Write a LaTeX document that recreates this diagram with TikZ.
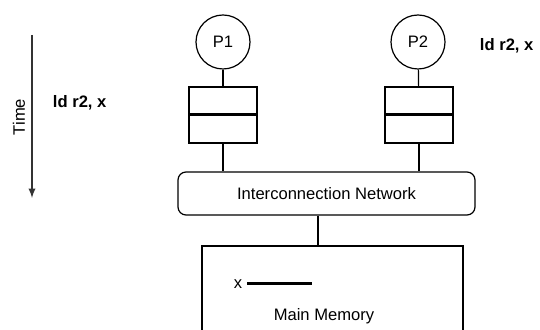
\documentclass[tikz,border=0pt]{standalone}
\usepackage{fontspec}
\setmainfont{Liberation Sans}

\begin{document}
\begin{tikzpicture}[x=0.25mm, y=-0.25mm, font=\fontsize{11.8}{14}\selectfont,
		proc/.style={draw, circle, line width=0.3mm, minimum size=13.5mm, inner sep=0pt},
		cachebox/.style={draw, rectangle, line width=0.3mm, minimum width=17mm, minimum height=14mm},
		netbox/.style={draw, rectangle, rounded corners=2mm, line width=0.3mm, minimum width=74.25mm, minimum height=10.75mm},
		membox/.style={draw, rectangle, line width=0.4mm, minimum width=65.25mm, minimum height=30mm},
		wire/.style={line width=0.3mm},
		opname/.style={font=\fontsize{11.8}{14}\selectfont\bfseries}]
		%%%%% START %%%%%
		\useasboundingbox (0, 0) rectangle (540, 330);
		\clip (0, 0) rectangle (540, 330);
		
		% time axis
		\coordinate (tTop) at (32, 35);
		\coordinate (tBot) at (32, 198);
		\draw[line width=0.45mm, color=black!80, -latex] (tTop) -- (tBot);
		\node[rotate=90] (time) at (19, 117) {Time};
		\node[opname, anchor=west] (ldA) at (48, 103) {ld r2, x};
		\node[opname, anchor=west] (ldB) at (475, 46) {ld r2, x};
		
		% processors and caches
		\node[proc] (p1) at (223, 42) {P1};
		\node[proc] (p2) at (418, 42) {P2};
		\node[cachebox] (cacheA) at (223, 115) {};
		\node[cachebox] (cacheB) at (419, 115) {};
		\draw[line width=0.75mm] (cacheA.west) -- (cacheA.east);
		\draw[line width=0.75mm] (cacheB.west) -- (cacheB.east);
		\draw[wire] (p1) -- (cacheA);
		\draw[wire] (p2) -- (cacheB);
		
		% network
		\node[netbox] (net) at (326.5, 193.5) {Interconnection Network};
		\draw[wire] (cacheA) -- (cacheA |- net.north);
		\draw[wire] (cacheB) -- (cacheB |- net.north);
		
		% memory
		\node[membox, anchor=north] (mem) at (332.5, 245) {};
		\draw[wire] (318,0 |- net.south) -- (318,0 |- mem.north);
		\node (xvar) at (238, 284) {x};
		\draw[line width=0.75mm] (xvar.east) -- ++(65, 0);
		\node (memname) at (324, 316) {Main Memory};
		
		%%%%% END %%%%%
	\end{tikzpicture}
\end{document}
